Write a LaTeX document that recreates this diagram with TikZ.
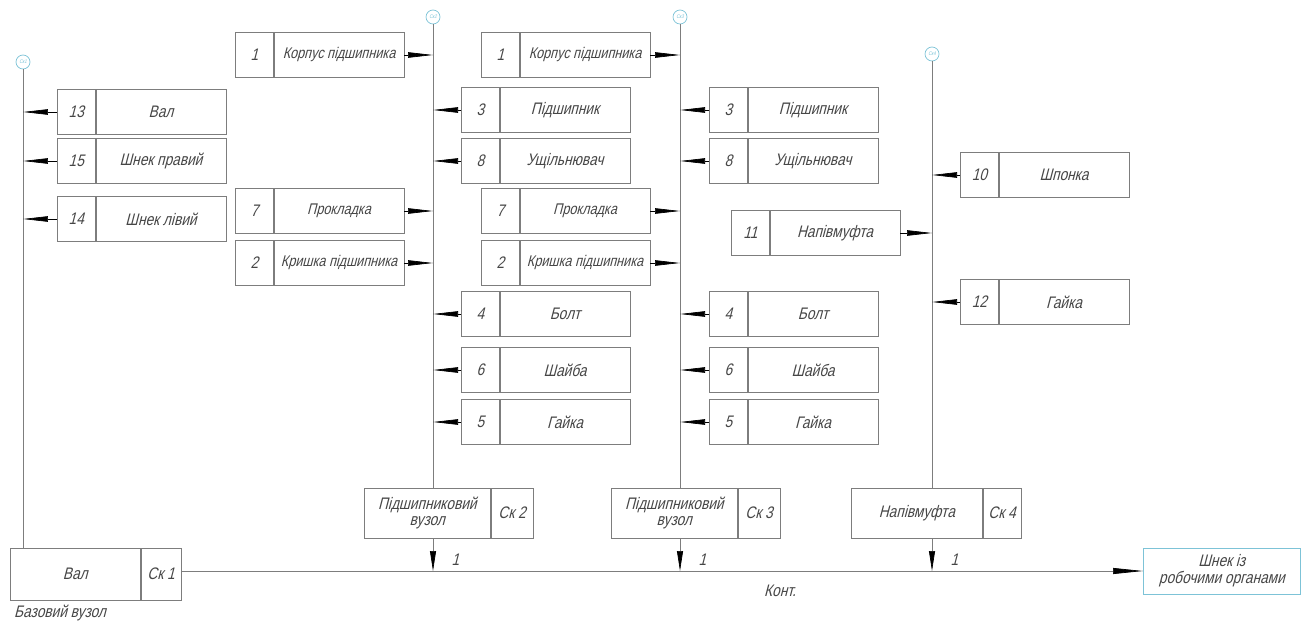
\documentclass[tikz,border=0pt]{standalone}
\usepackage{fontspec}
\setmainfont{Liberation Sans}
\newfontfamily\gost[FakeStretch=0.82,FakeSlant=0.26]{Liberation Sans}
\usetikzlibrary{arrows.meta}
\definecolor{cadline}{RGB}{125,125,125}
\definecolor{cadblue}{RGB}{125,195,215}
\definecolor{cadtext}{RGB}{70,70,70}

\begin{document}
\begin{tikzpicture}[
    x=0.02cm, y=-0.02cm,
    font=\gost\fontsize{9.5}{10.5}\selectfont, text=cadtext,
    numcell/.style={draw=cadline, minimum width=0.76cm, minimum height=0.9cm, inner sep=0pt, anchor=west},
    namecell/.style={draw=cadline, minimum width=2.6cm, minimum height=0.9cm, inner sep=0pt, anchor=west},
    asmname/.style={draw=cadline, minimum width=2.52cm, minimum height=1cm, inner sep=0pt, align=center, anchor=west},
    asmsk/.style={draw=cadline, minimum width=0.84cm, minimum height=1cm, inner sep=0pt, anchor=west},
    skcircle/.style={circle, draw=cadblue, minimum size=0.28cm, inner sep=0pt, text=cadblue, font=\gost\fontsize{3}{3}\selectfont},
    axis/.style={draw=cadline, thin},
    partarrow/.style={draw=black, -{Triangle[length=5mm, width=1.1mm]}},
    downarrow/.style={draw=cadline, thin, -{Triangle[length=4mm, width=1.2mm, color=black]}}
    ]
    \useasboundingbox (0,0) rectangle (1304,628);

    % Circles on top of the axes
    \node[skcircle] (c1) at (23,62) {Ск1};
    \node[skcircle] (c2) at (433,17) {Ск2};
    \node[skcircle] (c3) at (680,17) {Ск3};
    \node[skcircle] (c4) at (932,54) {Ск4};

    % Base unit
    \node[asmname, minimum width=2.6cm, minimum height=1.04cm] (b1) at (10,574) {Вал};
    \node[asmsk, minimum width=0.8cm, minimum height=1.04cm] (b1sk) at (b1.east) {Ск 1};
    \node[anchor=west] (b1lbl) at (8,613) {Базовий вузол};

    % Sub-assemblies
    \node[asmname] (a2) at (364,513) {Підшипниковий\\[-1pt]вузол};
    \node[asmsk] (a2sk) at (a2.east) {Ск 2};
    \node[asmname] (a3) at (611,513) {Підшипниковий\\[-1pt]вузол};
    \node[asmsk] (a3sk) at (a3.east) {Ск 3};
    \node[asmname, minimum width=2.62cm] (a4) at (851,513) {Напівмуфта};
    \node[asmsk, minimum width=0.76cm] (a4sk) at (a4.east) {Ск 4};

    % Final product
    \node[draw=cadblue, minimum width=3.14cm, minimum height=0.92cm, inner sep=0pt, align=center, anchor=west] (fin) at (1143,571) {Шнек із\\[-1pt]робочими органами};

    % Axes
    \draw[axis] (c1.south) -- (c1 |- b1.north);
    \draw[axis] (c2.south) -- (c2 |- a2.north);
    \draw[axis] (c3.south) -- (c3 |- a3.north);
    \draw[axis] (c4.south) -- (c4 |- a4.north);

    % Main line
    \draw[axis, -{Triangle[length=6mm, width=1.2mm, color=black]}] (b1sk.east |- fin.west) -- (fin.west);
    \node (kont) at (780,591) {Конт.};

    % Arrows of sub-assemblies
    \foreach \a in {2,3,4} {
        \draw[downarrow] (c\a |- a\a.south) -- (c\a |- fin.west);
        \node[anchor=west] (n\a) at ([xshift=0.25cm, yshift=0.22cm]c\a |- fin.west) {1};
    }

    % Parts of the base unit
    \foreach \id/\yy/\num/\txt in {13/112/13/Вал, 15/161/15/Шнек правий, 14/219/14/Шнек лівий} {
        \node[numcell] (d1\id n) at (57,\yy) {\num};
        \node[namecell] (d1\id) at (d1\id n.east) {\txt};
        \draw[partarrow] (d1\id n.west) -- (d1\id n.west -| c1);
    }

    % Parts of the bearing units
    \foreach \c/\xl/\xr in {2/235/461, 3/481/709} {
        \foreach \id/\yy/\num/\txt in {1/55/1/Корпус підшипника, 7/211/7/Прокладка, 2/263/2/Кришка підшипника} {
            \node[numcell] (d\c\id n) at (\xl,\yy) {\num};
            \node[namecell, font=\gost\fontsize{8.8}{10}\selectfont] (d\c\id) at (d\c\id n.east) {\txt};
            \draw[partarrow] (d\c\id.east) -- (d\c\id.east -| c\c);
        }
        \foreach \id/\yy/\num/\txt in {3/110/3/Підшипник, 8/161/8/Ущільнювач, 4/314/4/Болт, 6/370/6/Шайба, 5/422/5/Гайка} {
            \node[numcell] (d\c\id n) at (\xr,\yy) {\num};
            \node[namecell] (d\c\id) at (d\c\id n.east) {\txt};
            \draw[partarrow] (d\c\id n.west) -- (d\c\id n.west -| c\c);
        }
    }

    % Parts of the coupling half
    \foreach \id/\yy/\num/\txt in {10/175/10/Шпонка, 12/302/12/Гайка} {
        \node[numcell] (d4\id n) at (960,\yy) {\num};
        \node[namecell] (d4\id) at (d4\id n.east) {\txt};
        \draw[partarrow] (d4\id n.west) -- (d4\id n.west -| c4);
    }
    \node[numcell] (d411n) at (731,233) {11};
    \node[namecell] (d411) at (d411n.east) {Напівмуфта};
    \draw[partarrow] (d411.east) -- (d411.east -| c4);

\end{tikzpicture}
\end{document}
